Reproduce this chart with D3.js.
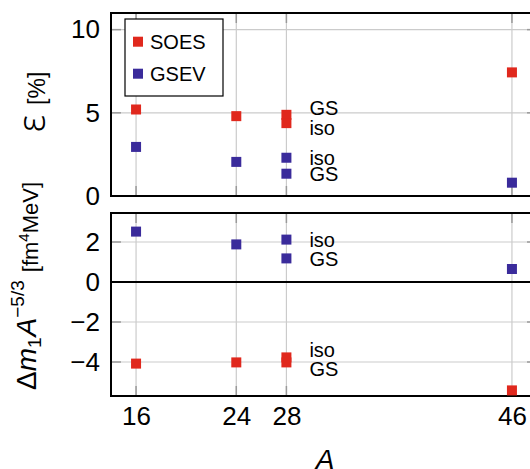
<!DOCTYPE html>
<html>
<head>
<meta charset="utf-8">
<script src="https://cdn.jsdelivr.net/npm/d3@7"></script>
<style>
  html, body { margin: 0; padding: 0; background: #fff; }
  svg { display: block; font-family: "Liberation Sans", Arial, sans-serif; }
</style>
</head>
<body>
<svg id="chart" width="530" height="469"></svg>
<script>
// Mass numbers (two entries at A = 28: ground state and isomer)
const massNumbers = [16, 24, 28, 28, 46];
const stateTags   = ["", "", "GS", "iso", ""];

// Relative error ε [%]
const epsSOES = [5.2, 4.8, 4.88, 4.38, 7.43];
const epsGSEV = [2.95, 2.05, 1.34, 2.3, 0.8];

// Δm1 A^(-5/3) [fm^4 MeV]
const dmSOES = [-4.08, -4.02, -4.02, -3.77, -5.42];
const dmGSEV = [2.52, 1.88, 1.18, 2.12, 0.65];

// Ticks
const xTicks = [16, 24, 28, 46];
const yTicksTop = [0, 5, 10];
const yTicksBottom = [-4, -2, 0, 2];

const seriesNames = ["SOES", "GSEV"];
const colors = { SOES: "#e0281d", GSEV: "#3a2b9b" };

const svg = d3.select("#chart");

const left = 111, right = 537;
const topPanel = { y0: 13, y1: 196 };
const botPanel = { y0: 213, y1: 396 };

const x = d3.scaleLinear().domain([14, 48]).range([left, right]);
const yTop = d3.scaleLinear().domain([0, 11]).range([topPanel.y1, topPanel.y0]);
const yBot = d3.scaleLinear().domain([-5.7, 3.45]).range([botPanel.y1, botPanel.y0]);

const gridColor = "#cbcbcb";
const tickColor = "#9a9a9a";
const tickLen = 10;
const markerSize = 10;

function drawPanel(y, panel, yTicks, series, tagOffsets, zeroLine) {
  const g = svg.append("g");

  // grid
  g.selectAll(".vgrid").data(xTicks).join("line")
    .attr("x1", d => x(d)).attr("x2", d => x(d))
    .attr("y1", panel.y0).attr("y2", panel.y1)
    .attr("stroke", gridColor).attr("stroke-width", 1.2);
  g.selectAll(".hgrid").data(yTicks.filter(t => y(t) < panel.y1 - 1)).join("line")
    .attr("x1", left).attr("x2", right)
    .attr("y1", d => y(d)).attr("y2", d => y(d))
    .attr("stroke", gridColor).attr("stroke-width", 1.2);

  // inner ticks on all sides
  g.selectAll(".xt-top").data(xTicks).join("line")
    .attr("x1", d => x(d)).attr("x2", d => x(d))
    .attr("y1", panel.y0).attr("y2", panel.y0 + tickLen)
    .attr("stroke", tickColor).attr("stroke-width", 1.5);
  g.selectAll(".xt-bot").data(xTicks).join("line")
    .attr("x1", d => x(d)).attr("x2", d => x(d))
    .attr("y1", panel.y1).attr("y2", panel.y1 - tickLen)
    .attr("stroke", tickColor).attr("stroke-width", 1.5);
  g.selectAll(".yt-l").data(yTicks).join("line")
    .attr("x1", left).attr("x2", left + tickLen)
    .attr("y1", d => y(d)).attr("y2", d => y(d))
    .attr("stroke", tickColor).attr("stroke-width", 1.5);
  g.selectAll(".yt-r").data(yTicks).join("line")
    .attr("x1", right).attr("x2", right - tickLen)
    .attr("y1", d => y(d)).attr("y2", d => y(d))
    .attr("stroke", tickColor).attr("stroke-width", 1.5);

  if (zeroLine) {
    g.append("line")
      .attr("x1", left).attr("x2", right)
      .attr("y1", y(0)).attr("y2", y(0))
      .attr("stroke", "#000").attr("stroke-width", 2);
  }

  // frame
  g.append("rect")
    .attr("x", left).attr("y", panel.y0)
    .attr("width", right - left).attr("height", panel.y1 - panel.y0)
    .attr("fill", "none").attr("stroke", "#000").attr("stroke-width", 2);

  // y tick labels
  const axis = d3.axisLeft(y).tickValues(yTicks).tickSize(0).tickPadding(11);
  const ga = g.append("g").attr("transform", `translate(${left},0)`).call(axis);
  ga.select(".domain").remove();
  ga.selectAll("text")
    .attr("font-size", 26).attr("fill", "#000")
    .attr("font-family", "Liberation Sans, Arial, sans-serif");

  // markers
  series.forEach(s => {
    g.selectAll(null).data(s.values.map((v, i) => ({ a: massNumbers[i], v })))
      .join("rect")
      .attr("x", d => x(d.a) - markerSize / 2)
      .attr("y", d => y(d.v) - markerSize / 2)
      .attr("width", markerSize).attr("height", markerSize)
      .attr("fill", colors[s.name]);
  });

  // state annotations (GS / iso) next to the A = 28 points
  series.forEach(s => {
    s.values.forEach((v, i) => {
      if (!stateTags[i]) return;
      g.append("text")
        .attr("x", x(massNumbers[i]) + 23)
        .attr("y", y(v) + tagOffsets[s.name][stateTags[i]])
        .attr("dy", "0.35em")
        .attr("font-size", 20)
        .text(stateTags[i]);
    });
  });
}

drawPanel(yTop, topPanel, yTicksTop,
  [{ name: "SOES", values: epsSOES }, { name: "GSEV", values: epsGSEV }],
  { SOES: { GS: -7, iso: 5 }, GSEV: { GS: 0, iso: 0 } }, false);

drawPanel(yBot, botPanel, yTicksBottom,
  [{ name: "SOES", values: dmSOES }, { name: "GSEV", values: dmGSEV }],
  { SOES: { GS: 7, iso: -7 }, GSEV: { GS: 1, iso: 0 } }, true);

// x tick labels
const xa = svg.append("g").attr("transform", `translate(0,${botPanel.y1})`)
  .call(d3.axisBottom(x).tickValues(xTicks).tickSize(0).tickPadding(11));
xa.select(".domain").remove();
xa.selectAll("text").attr("font-size", 26).attr("fill", "#000")
  .attr("font-family", "Liberation Sans, Arial, sans-serif");

// x axis title
svg.append("text")
  .attr("x", (left + right) / 2 + 1).attr("y", 469)
  .attr("text-anchor", "middle")
  .attr("font-size", 28).attr("font-style", "italic")
  .text("A");

// legend
const lg = svg.append("g");
lg.append("rect").attr("x", 125).attr("y", 19).attr("width", 98).attr("height", 77)
  .attr("fill", "#fff").attr("stroke", "#000").attr("stroke-width", 1.2);
seriesNames.forEach((n, i) => {
  const cy = 41.7 + i * 32;
  lg.append("rect").attr("x", 138 - markerSize / 2).attr("y", cy - markerSize / 2)
    .attr("width", markerSize).attr("height", markerSize).attr("fill", colors[n]);
  lg.append("text").attr("x", 150).attr("y", cy).attr("dy", "0.35em")
    .attr("font-size", 20).text(n);
});

// y axis title, top panel
const t1 = svg.append("text")
  .attr("transform", "translate(45,102) rotate(-90)")
  .attr("text-anchor", "middle");
t1.append("tspan").attr("font-size", 38).attr("font-family", "Noto Sans, sans-serif")
  .attr("font-weight", 300).text("ɛ");
t1.append("tspan").attr("font-size", 23).attr("dx", 10).text("[%]");

// y axis title, bottom panel
const t2 = svg.append("text")
  .attr("transform", "translate(36,286) rotate(-90)")
  .attr("text-anchor", "middle");
t2.append("tspan").attr("font-size", 28).text("Δ");
t2.append("tspan").attr("font-size", 28).attr("font-style", "italic").text("m");
t2.append("tspan").attr("font-size", 19).attr("dy", 5).text("1");
t2.append("tspan").attr("font-size", 28).attr("font-style", "italic").attr("dy", -5).attr("dx", 1).text("A");
t2.append("tspan").attr("font-size", 19).attr("dy", -12).text("−5/3");
t2.append("tspan").attr("font-size", 22).attr("dy", 14).attr("dx", 8).text("[fm");
t2.append("tspan").attr("font-size", 15).attr("dy", -9).text("4");
t2.append("tspan").attr("font-size", 22).attr("dy", 9).text("MeV]");
</script>
</body>
</html>
